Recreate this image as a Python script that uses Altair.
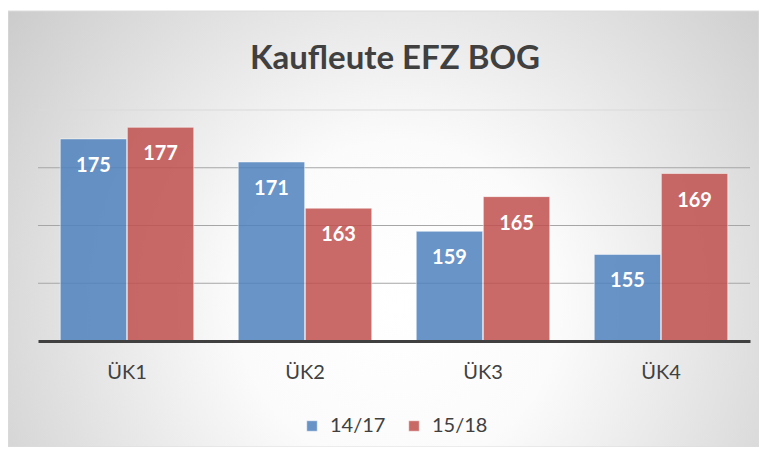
import altair as alt
import pandas as pd

categories = ["ÜK1", "ÜK2", "ÜK3", "ÜK4"]
series_names = ["14/17", "15/18"]
values_1417 = [175, 171, 159, 155]
values_1518 = [177, 163, 165, 169]
grid_values = [150, 160, 170, 180]
series_colors = ["#4F81BD", "#C0504D"]
title_text = "Kaufleute EFZ BOG"

rows = []
for c, a, b in zip(categories, values_1417, values_1518):
    rows.append({"cat": c, "series": series_names[0], "value": a})
    rows.append({"cat": c, "series": series_names[1], "value": b})
df = pd.DataFrame(rows)
grid_df = pd.DataFrame({"g": grid_values})

W, H = 712, 231
PL, PT, PR, PB = 30, 102, 9, 106
FONT = "Lato"

yscale = alt.Scale(domain=[140, 180], zero=False, nice=False)
xscale = alt.Scale(paddingInner=0.25, paddingOuter=0.125)

bg = alt.Chart(pd.DataFrame({"a": [0]})).mark_rect(
    fill=alt.RadialGradient(
        gradient="radial",
        x1=0.52, y1=0.6, r1=0.0,
        x2=0.52, y2=0.6, r2=0.72,
        stops=[
            alt.GradientStop(color="#ffffff", offset=0.0),
            alt.GradientStop(color="#fbfbfb", offset=0.3),
            alt.GradientStop(color="#c4c4c4", offset=1.0),
        ],
    ),
    stroke="#dcdcdc",
    strokeWidth=1,
).encode(
    x=alt.value(-PL), x2=alt.value(W + PR), y=alt.value(-PT + 3), y2=alt.value(H + PB)
)

grid = alt.Chart(grid_df).mark_rule(strokeWidth=1.2).encode(
    y=alt.Y("g:Q", scale=yscale, axis=None),
    color=alt.condition("datum.g == 180", alt.value("#d9d9d9"), alt.value("#a6a6a6")),
)

base = alt.Chart(df).encode(
    x=alt.X(
        "cat:N",
        sort=categories,
        scale=xscale,
        axis=alt.Axis(
            title=None,
            ticks=False,
            labelAngle=0,
            labelFont=FONT,
            labelFontSize=20,
            labelColor="#404040",
            labelPadding=21,
            domainColor="#404040",
            domainWidth=3,
            grid=False,
            zindex=1,
        ),
    ),
    xOffset=alt.XOffset("series:N", sort=series_names, scale=alt.Scale(paddingInner=0.01)),
    y=alt.Y("value:Q", scale=yscale, axis=None),
)

bars = base.mark_bar(clip=True, fillOpacity=0.85, stroke="#ffffff", strokeOpacity=0.5, strokeWidth=1).encode(
    fill=alt.Fill(
        "series:N",
        sort=series_names,
        scale=alt.Scale(domain=series_names, range=series_colors),
        legend=alt.Legend(
            title=None,
            orient="none",
            legendX=264,
            legendY=306,
            direction="horizontal",
            symbolType="square",
            symbolSize=110,
            symbolOpacity=0.85,
            symbolStrokeColor="#ffffff",
            symbolStrokeWidth=0.5,
            labelFont=FONT,
            labelFontSize=20,
            labelColor="#404040",
            labelOffset=8,
            columnPadding=18,
        ),
    )
)

labels = base.mark_text(
    font=FONT, fontSize=20, fontWeight="bold", color="white", baseline="middle", dy=27
).encode(text="value:Q")

title = alt.Chart(pd.DataFrame({"t": [title_text]})).mark_text(
    font=FONT, fontSize=33, fontWeight="bold", color="#404040", baseline="middle", align="center"
).encode(text="t:N", x=alt.value(W / 2 + 1), y=alt.value(-51))

chart = alt.layer(bg, grid, bars, labels, title).properties(
    width=W,
    height=H,
    autosize=alt.AutoSizeParams(type="none"),
    padding={"left": PL, "top": PT, "right": PR, "bottom": PB},
    background="white",
).configure_view(stroke=None)

chart.save("out.html", embed_options={"renderer": "svg", "actions": False})
